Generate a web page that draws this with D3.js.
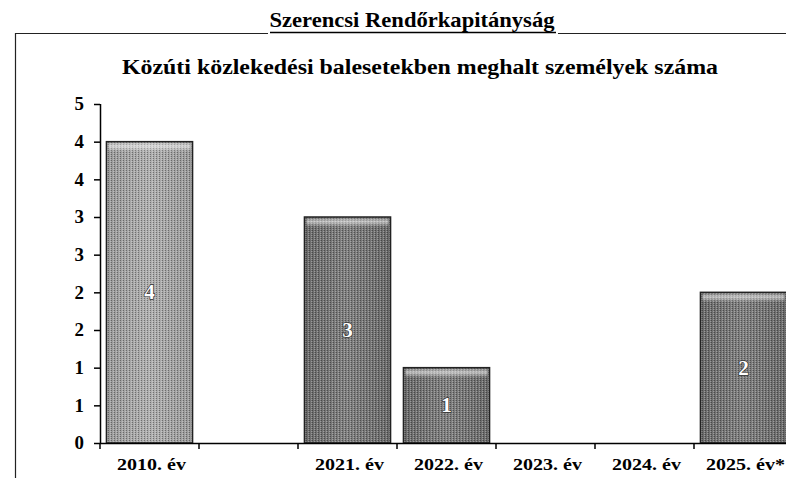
<!DOCTYPE html>
<html>
<head>
<meta charset="utf-8">
<script src="https://cdn.jsdelivr.net/npm/d3@7"></script>
<style>
  body { margin: 0; background: #fff; }
  svg text { font-family: "Liberation Serif", "Times New Roman", serif; font-weight: bold; }
</style>
</head>
<body>
<div id="chart"></div>
<script>
const pageTitle = 'Szerencsi Rendőrkapitányság'
const chartTitle = 'Közúti közlekedési balesetekben meghalt személyek száma'
const categories = ['2010. év', '', '2021. év', '2022. év', '2023. év', '2024. év', '2025. év*']
const values = [4, null, 3, 1, 0, 0, 2]
const yTicks = [0, 0.5, 1, 1.5, 2, 2.5, 3, 3.5, 4, 4.5]
const yTickLabels = ['0', '1', '1', '2', '2', '3', '3', '4', '4', '5']

const W = 786, H = 478
const chart = {left: 100, top: 104, bottom: 443, right: 793}

const svg = d3.select('#chart').append('svg')
  .attr('width', W)
  .attr('height', H)

const defs = svg.append('defs')
const makeGrad = (id, dark, mid) => {
  const g = defs.append('linearGradient').attr('id', id)
    .attr('x1', 0).attr('x2', 1).attr('y1', 0).attr('y2', 0)
  g.append('stop').attr('offset', '0%').attr('stop-color', dark)
  g.append('stop').attr('offset', '50%').attr('stop-color', mid)
  g.append('stop').attr('offset', '100%').attr('stop-color', dark)
}
makeGrad('barLight', '#9a9a9a', '#b0b0b0')
makeGrad('barDark', '#6a6a6a', '#808080')

// dither-like texture over the bars
const dither = defs.append('pattern').attr('id', 'dither')
  .attr('width', 3).attr('height', 2).attr('patternUnits', 'userSpaceOnUse')
dither.append('rect').attr('x', 0).attr('y', 0).attr('width', 1).attr('height', 1).attr('fill', '#000').attr('opacity', 0.35)
dither.append('rect').attr('x', 2).attr('y', 1).attr('width', 1).attr('height', 1).attr('fill', '#fff').attr('opacity', 0.3)

const topGrad = defs.append('linearGradient').attr('id', 'barTop')
  .attr('x1', 0).attr('x2', 0).attr('y1', 0).attr('y2', 1)
topGrad.append('stop').attr('offset', '0%').attr('stop-color', '#fff').attr('stop-opacity', 0.15)
topGrad.append('stop').attr('offset', '40%').attr('stop-color', '#fff').attr('stop-opacity', 0.55)
topGrad.append('stop').attr('offset', '100%').attr('stop-color', '#fff').attr('stop-opacity', 0)

// stretch text horizontally like the scanned original
const stretch = (sel, k) => sel.each(function () {
  const len = this.getComputedTextLength()
  d3.select(this).attr('textLength', len * k).attr('lengthAdjust', 'spacingAndGlyphs')
})

// frame
svg.append('path')
  .attr('d', `M15.5,${H} V33.5 H${W}`)
  .attr('fill', 'none')
  .attr('stroke', '#222')
  .attr('stroke-width', 1.2)

// titles
svg.append('rect').attr('x', 268).attr('y', 28).attr('width', 290).attr('height', 8).attr('fill', '#fff')
svg.append('text')
  .attr('x', 412).attr('y', 27)
  .attr('text-anchor', 'middle')
  .attr('font-size', 22)
  .attr('textLength', 285)
  .attr('lengthAdjust', 'spacingAndGlyphs')
  .text(pageTitle)
svg.append('line')
  .attr('x1', 270).attr('x2', 556).attr('y1', 32.5).attr('y2', 32.5)
  .attr('stroke', '#000').attr('stroke-width', 1.5)

svg.append('text')
  .attr('x', 420).attr('y', 74)
  .attr('text-anchor', 'middle')
  .attr('font-size', 20)
  .attr('textLength', 596)
  .attr('lengthAdjust', 'spacingAndGlyphs')
  .text(chartTitle)

// scales
const x = d3.scaleBand()
  .domain(d3.range(categories.length))
  .range([chart.left, chart.right])
  .paddingInner(0.13)
  .paddingOuter(0.065)

const y = d3.scaleLinear()
  .domain([0, 4.5])
  .range([chart.bottom, chart.top])

// bars
const data = values.map((v, i) => ({i: i, v: v})).filter((d) => d.v)
const bars = svg.append('g').selectAll('g')
  .data(data)
  .enter()
  .append('g')

bars.append('rect')
  .attr('x', (d) => x(d.i))
  .attr('y', (d) => y(d.v))
  .attr('width', x.bandwidth())
  .attr('height', (d) => y(0) - y(d.v))
  .attr('fill', (d) => d.i === 0 ? 'url(#barLight)' : 'url(#barDark)')

bars.append('rect')
  .attr('x', (d) => x(d.i))
  .attr('y', (d) => y(d.v))
  .attr('width', x.bandwidth())
  .attr('height', (d) => y(0) - y(d.v))
  .attr('fill', 'url(#dither)')
  .attr('stroke', '#222')
  .attr('stroke-width', 1.5)

bars.append('rect')
  .attr('x', (d) => x(d.i) + 2)
  .attr('y', (d) => y(d.v) + 1)
  .attr('width', x.bandwidth() - 4)
  .attr('height', 9)
  .attr('fill', 'url(#barTop)')

bars.append('text')
  .attr('x', (d) => x(d.i) + x.bandwidth() / 2)
  .attr('y', (d) => (y(d.v) + y(0)) / 2 + 7)
  .attr('text-anchor', 'middle')
  .attr('font-size', 21)
  .attr('fill', '#fff')
  .attr('stroke', '#333')
  .attr('stroke-width', 1.4)
  .attr('paint-order', 'stroke')
  .text((d) => d.v)

// y axis
const yAxis = svg.append('g')
  .attr('transform', `translate(${chart.left},0)`)
  .call(d3.axisLeft(y)
    .tickValues(yTicks)
    .tickFormat((d, i) => yTickLabels[i])
    .tickSize(6)
    .tickPadding(10))
yAxis.select('.domain').attr('d', `M0.5,${chart.top}V${chart.bottom + 0.5}`).attr('stroke-width', 1.5)
yAxis.selectAll('.tick line').attr('stroke-width', 1.5)
yAxis.selectAll('.tick text')
  .attr('font-size', 18)
  .attr('fill', '#000')
  .call(stretch, 1.05)

// x axis
const step = x.step()
const xAxis = svg.append('g')
xAxis.append('line')
  .attr('x1', chart.left).attr('x2', W)
  .attr('y1', chart.bottom + 0.5).attr('y2', chart.bottom + 0.5)
  .attr('stroke', '#000').attr('stroke-width', 1.5)
xAxis.selectAll('.xtick')
  .data(d3.range(categories.length))
  .enter()
  .append('line')
  .attr('x1', (i) => x(i) - step * x.paddingInner() / 2)
  .attr('x2', (i) => x(i) - step * x.paddingInner() / 2)
  .attr('y1', chart.bottom)
  .attr('y2', chart.bottom + 6)
  .attr('stroke', '#000').attr('stroke-width', 1.5)
xAxis.selectAll('.xlabel')
  .data(categories)
  .enter()
  .append('text')
  .attr('x', (d, i) => x(i) + x.bandwidth() / 2 + 2)
  .attr('y', 470)
  .attr('text-anchor', 'middle')
  .attr('font-size', 16)
  .text((d) => d)
  .filter((d) => d)
  .call(stretch, 1.25)
</script>
</body>
</html>
